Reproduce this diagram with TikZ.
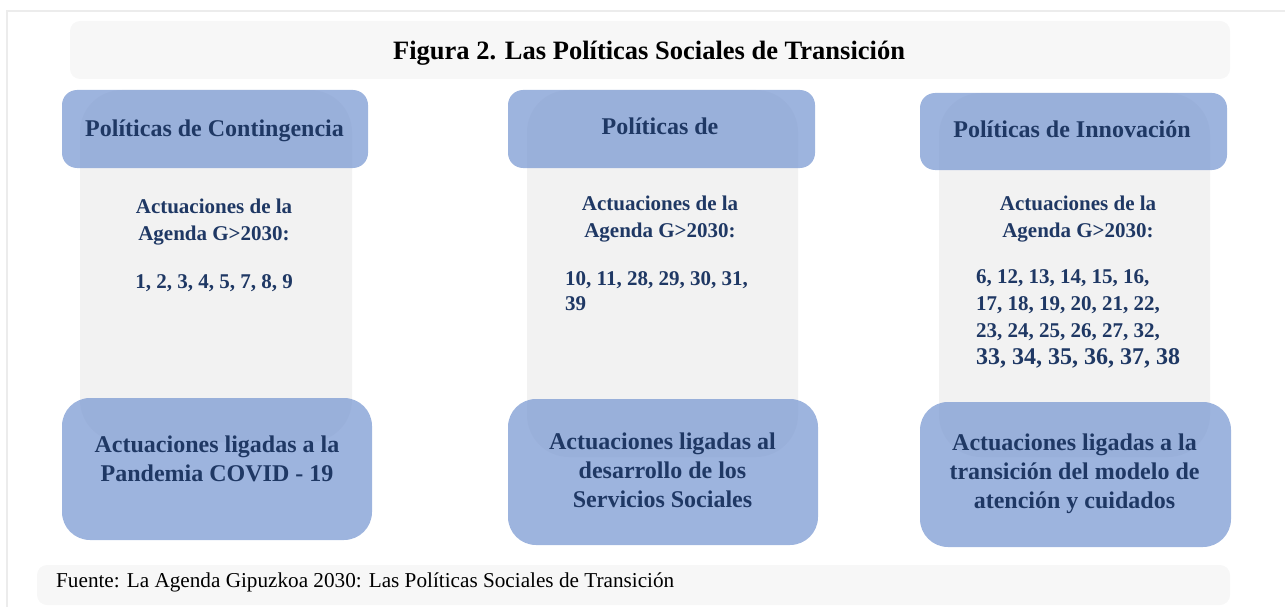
\documentclass[tikz,border=0pt]{standalone}
\usepackage{fontspec}
\setmainfont{Liberation Serif}
\definecolor{navy}{HTML}{1F3864}
\definecolor{boxblue}{HTML}{7494D0}
\definecolor{colgray}{HTML}{F2F2F2}
\definecolor{panelgray}{HTML}{F7F7F7}
\definecolor{framegray}{HTML}{ECECEC}
\tikzset{
  colbox/.style={fill=colgray, draw=none, rounded corners=42pt, inner sep=0pt},
  topbox/.style={fill=boxblue, fill opacity=0.7, draw=none, rounded corners=15pt, inner sep=0pt},
  botbox/.style={fill=boxblue, fill opacity=0.7, draw=none, rounded corners=28pt, inner sep=0pt},
  panel/.style={fill=panelgray, draw=none, rounded corners=10pt, inner sep=0pt},
  headtxt/.style={text=navy, font=\fontsize{24}{29}\selectfont\bfseries, inner sep=0pt, anchor=base},
  midtxt/.style={text=navy, font=\fontsize{21}{27}\selectfont\bfseries, inner sep=0pt, anchor=base},
  bottxt/.style={text=navy, font=\fontsize{24}{29}\selectfont\bfseries, inner sep=0pt, anchor=base},
  titletxt/.style={text=black, font=\fontsize{26.5}{32}\selectfont\bfseries, inner sep=0pt, anchor=base},
  foottxt/.style={text=black, font=\fontsize{21.2}{25}\selectfont, inner sep=0pt, anchor=base west},
}
\begin{document}
\begin{tikzpicture}[x=1pt,y=-1pt]
\useasboundingbox (0,0) rectangle (1285,607);
% frame
\coordinate (f0) at (7,607);
\coordinate (f1) at (7,11);
\coordinate (f2) at (1285,11);
\draw[framegray, line width=1.5pt] (f0) -- (f1) -- (f2);
% title and footer panels
\node[panel, minimum width=1160pt, minimum height=58pt] (tpanel) at (650,50) {};
\node[titletxt] (title) at (649,60) {Figura 2. Las Políticas Sociales de Transición};
\node[panel, minimum width=1193pt, minimum height=40pt] (fpanel) at (633.5,585) {};
\node[foottxt] (foot) at (56,587) {Fuente: La Agenda Gipuzkoa 2030: Las Políticas Sociales de Transición};
% column backgrounds
\node[colbox, minimum width=272pt, minimum height=352pt] (g1) at (216,266) {};
\node[colbox, minimum width=271pt, minimum height=367pt] (g2) at (662.5,273.5) {};
\node[colbox, minimum width=271pt, minimum height=364pt] (g3) at (1074.5,275) {};
% top boxes
\node[topbox, minimum width=306pt, minimum height=78pt] (t1) at (215,129) {};
\node[topbox, minimum width=307pt, minimum height=78pt] (t2) at (661.5,129) {};
\node[topbox, minimum width=307pt, minimum height=77pt] (t3) at (1073.5,131.5) {};
% bottom boxes
\node[botbox, minimum width=310pt, minimum height=142pt] (b1) at (217,469) {};
\node[botbox, minimum width=310pt, minimum height=146pt] (b2) at (663,472) {};
\node[botbox, minimum width=311pt, minimum height=145pt] (b3) at (1075.5,474.5) {};
% header texts
\node[headtxt] (h1) at (214.5,136) {Políticas de Contingencia};
\node[headtxt] (h2) at (660,135) {Políticas de};
\node[headtxt] (h3) at (1072,138) {Políticas de Innovación};
% middle texts
\node[midtxt] (m1) at (214,213) {\begin{tabular}[t]{@{}c@{}}Actuaciones de la\\Agenda G>2030:\end{tabular}};
\node[midtxt] (n1) at (214,288) {1, 2, 3, 4, 5, 7, 8, 9};
\node[midtxt] (m2) at (660,210) {\begin{tabular}[t]{@{}c@{}}Actuaciones de la\\Agenda G>2030:\end{tabular}};
\node[midtxt, anchor=base west, font=\fontsize{21}{25.5}\selectfont\bfseries] (n2) at (565,285) {\begin{tabular}[t]{@{}l@{}}10, 11, 28, 29, 30, 31,\\39\end{tabular}};
\node[midtxt] (m3) at (1078,210) {\begin{tabular}[t]{@{}c@{}}Actuaciones de la\\Agenda G>2030:\end{tabular}};
\node[midtxt, anchor=base west] (n3) at (976,283) {\begin{tabular}[t]{@{}l@{}}6, 12, 13, 14, 15, 16,\\17, 18, 19, 20, 21, 22,\\23, 24, 25, 26, 27, 32,\\{\fontsize{24}{28}\selectfont 33, 34, 35, 36, 37, 38}\end{tabular}};
% bottom texts
\node[bottxt] (bt1) at (217,452) {\begin{tabular}[t]{@{}c@{}}Actuaciones ligadas a la\\Pandemia COVID - 19\end{tabular}};
\node[bottxt] (bt2) at (662.5,449) {\begin{tabular}[t]{@{}c@{}}Actuaciones ligadas al\\desarrollo de los\\Servicios Sociales\end{tabular}};
\node[bottxt] (bt3) at (1074.5,450) {\begin{tabular}[t]{@{}c@{}}Actuaciones ligadas a la\\transición del modelo de\\atención y cuidados\end{tabular}};
\end{tikzpicture}
\end{document}
